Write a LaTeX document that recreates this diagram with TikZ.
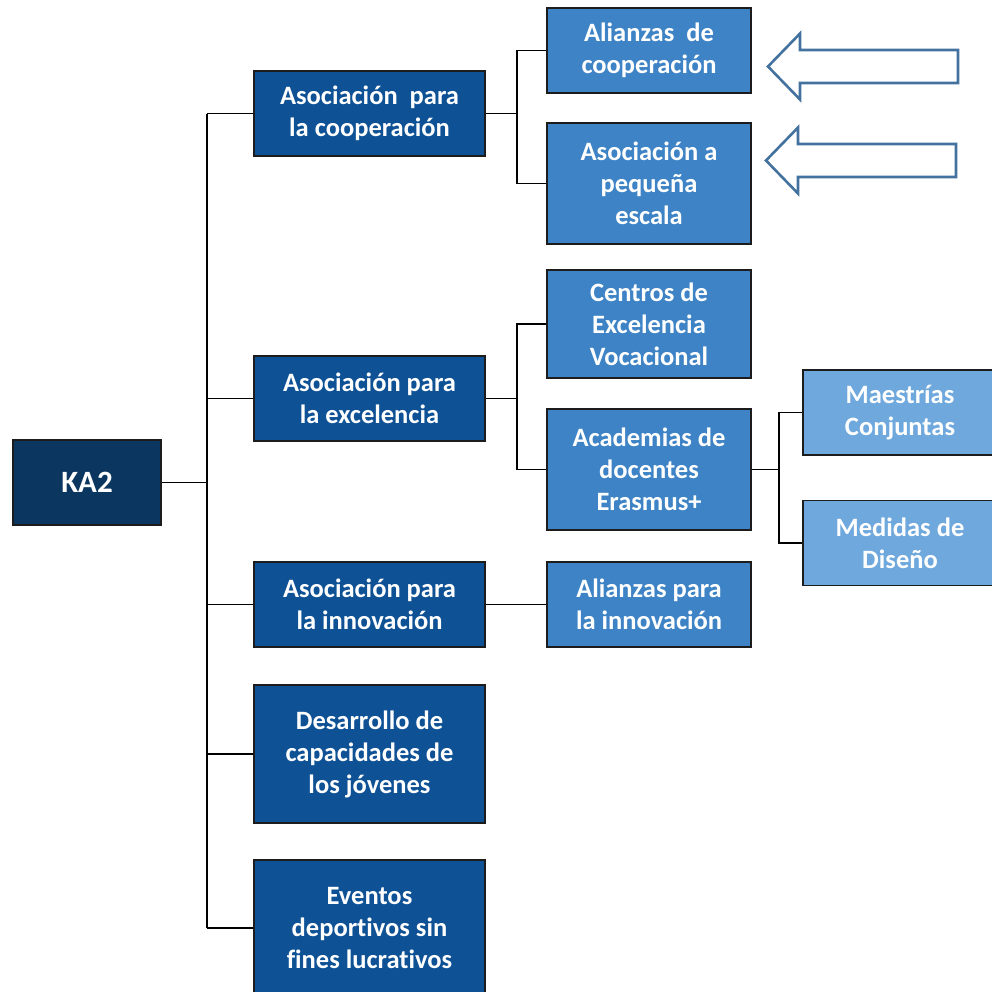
\documentclass[tikz,border=0pt]{standalone}
\usepackage{fontspec}
\setmainfont{Carlito}[Ligatures = NoCommon]
\usetikzlibrary{positioning}
\definecolor{rootblue}{HTML}{0A365F}
\definecolor{oneblue}{HTML}{0E5195}
\definecolor{twoblue}{HTML}{3D83C5}
\definecolor{threeblue}{HTML}{6EA8DC}
\definecolor{hintblue}{HTML}{43729E}
\definecolor{boxline}{HTML}{1C1C1C}
\tikzset{box/.style = {draw = boxline, line width = 1.5, text = white, align = center,
                       font = \bfseries\fontsize{26.5}{32}\selectfont,
                       inner sep = 0, minimum height = 85}}
\tikzset{rootbox/.style = {box, fill = rootblue, minimum width = 148,
                           font = \bfseries\fontsize{31}{36}\selectfont}}
\tikzset{onebox/.style = {box, fill = oneblue, minimum width = 231}}
\tikzset{twobox/.style = {box, fill = twoblue, minimum width = 204}}
\tikzset{threebox/.style = {box, fill = threeblue, minimum width = 194}}
\tikzset{link/.style = {line width = 1.8, draw = black}}
\tikzset{hint/.style = {draw = hintblue, line width = 2.6, line join = miter}}

\begin{document}
\begin{tikzpicture}[x = 1pt, y = -1pt]
      \useasboundingbox (0, 0) rectangle (992, 991);
      \clip (0, 0) rectangle (992, 991);
      \node [rootbox] (ka2) at (87, 482.5) {KA2};
      \node [onebox] (coop) at (369.5, 113.5) {Asociación~~para\\la cooperación};
      \node [onebox] (exc) at (369.5, 398.5) {Asociación para\\la excelencia};
      \node [onebox] (inn) at (369.5, 604.5) {Asociación para\\la innovación};
      \node [onebox, minimum height = 138] (des) at (369.5, 754) {Desarrollo de\\capacidades de\\los jóvenes};
      \node [onebox, minimum height = 136] (eve) at (369.5, 928) {Eventos\\deportivos sin\\fines lucrativos};
      \node [twobox] (alicoop) at (649, 50.5) {Alianzas~~de\\cooperación};
      \node [twobox, minimum height = 121] (peq) at (649, 183.5) {Asociación a\\pequeña\\escala};
      \node [twobox, minimum height = 108] (cen) at (649, 324) {Centros de\\Excelencia\\Vocacional};
      \node [twobox, minimum height = 121] (aca) at (649, 469.5) {Academias de\\docentes\\Erasmus+};
      \node [twobox] (aliinn) at (649, 604.5) {Alianzas para\\la innovación};
      \node [threebox] (mae) at (900, 412.5) {Maestrías\\Conjuntas};
      \node [threebox] (med) at (900, 543) {Medidas de\\Diseño};
      \coordinate (bus) at (207, 0);
      \draw [link] (ka2.east) -- (ka2.east -| bus);
      \draw [link] (coop.west -| bus) -- (eve.west -| bus);
      \foreach \n in {coop, exc, inn, des, eve}
        \draw [link] (\n.west) -- (\n.west -| bus);
      \draw [link] (coop.east) -- ++(31, 0) coordinate (jcoop) |- (alicoop.west) (jcoop) |- (peq.west);
      \draw [link] (exc.east) -- ++(31, 0) coordinate (jexc) |- (cen.west) (jexc) |- (aca.west);
      \draw [link] (inn.east) -- (aliinn.west);
      \draw [link] (aca.east) -- ++(27, 0) coordinate (jaca) |- (mae.west) (jaca) |- (med.west);
      \foreach \y/\x in {66.5/768, 160.5/766}
        \draw [hint] (\x, \y) -- (\x + 32, \y - 33) -- (\x + 32, \y - 16.5) -- (\x + 190, \y - 16.5)
          -- (\x + 190, \y + 16.5) -- (\x + 32, \y + 16.5) -- (\x + 32, \y + 33) -- cycle;
    \end{tikzpicture}
\end{document}
